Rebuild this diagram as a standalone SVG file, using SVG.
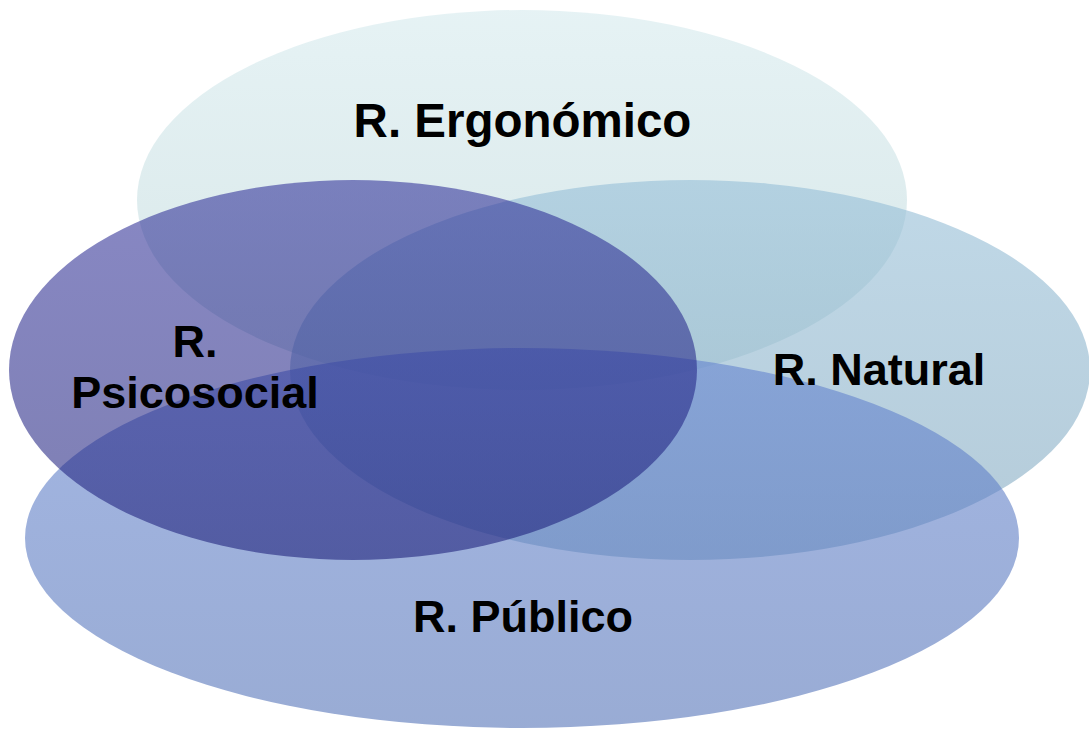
<svg xmlns="http://www.w3.org/2000/svg" width="1089" height="732" viewBox="0 0 1089 732">
  <defs>
    <linearGradient id="gErg" x1="0" y1="0" x2="0" y2="1">
      <stop offset="0" stop-color="#dbedf0"/>
      <stop offset="1" stop-color="#c6dcde"/>
    </linearGradient>
    <linearGradient id="gNat" x1="0" y1="0" x2="0" y2="1">
      <stop offset="0" stop-color="#96bfd8"/>
      <stop offset="1" stop-color="#82a8bf"/>
    </linearGradient>
    <linearGradient id="gPub" x1="0" y1="0" x2="0" y2="1">
      <stop offset="0" stop-color="#6585d0"/>
      <stop offset="1" stop-color="#5574b8"/>
    </linearGradient>
    <linearGradient id="gPsi" x1="0" y1="0" x2="0" y2="1">
      <stop offset="0" stop-color="#2a2a96"/>
      <stop offset="1" stop-color="#181a76"/>
    </linearGradient>
  </defs>
  <style>
    .lbl { font-family: "Liberation Sans", Arial, sans-serif; font-weight: bold; font-size: 45px; fill: #000; text-anchor: middle; }
  </style>
  <rect width="1089" height="732" fill="#ffffff"/>
  <g id="ergonomico">
    <ellipse cx="522" cy="200" rx="385" ry="190" fill="url(#gErg)" fill-opacity="0.7"/>
  </g>
  <g id="natural">
    <ellipse cx="690" cy="370" rx="400" ry="190" fill="url(#gNat)" fill-opacity="0.6"/>
  </g>
  <g id="publico">
    <ellipse cx="522" cy="538" rx="497" ry="190" fill="url(#gPub)" fill-opacity="0.6"/>
  </g>
  <g id="psicosocial">
    <ellipse cx="353" cy="370" rx="344" ry="190" fill="url(#gPsi)" fill-opacity="0.56"/>
  </g>
  <g id="labels">
    <text class="lbl" x="522.5" y="137" style="font-size:47.5px">R. Ergonómico</text>
    <text class="lbl" x="879" y="385">R. Natural</text>
    <text class="lbl" x="195" y="357"><tspan x="195" y="357">R.</tspan><tspan x="195" y="408">Psicosocial</tspan></text>
    <text class="lbl" x="523" y="632">R. Público</text>
  </g>
  <g id="connectors"/>
</svg>
